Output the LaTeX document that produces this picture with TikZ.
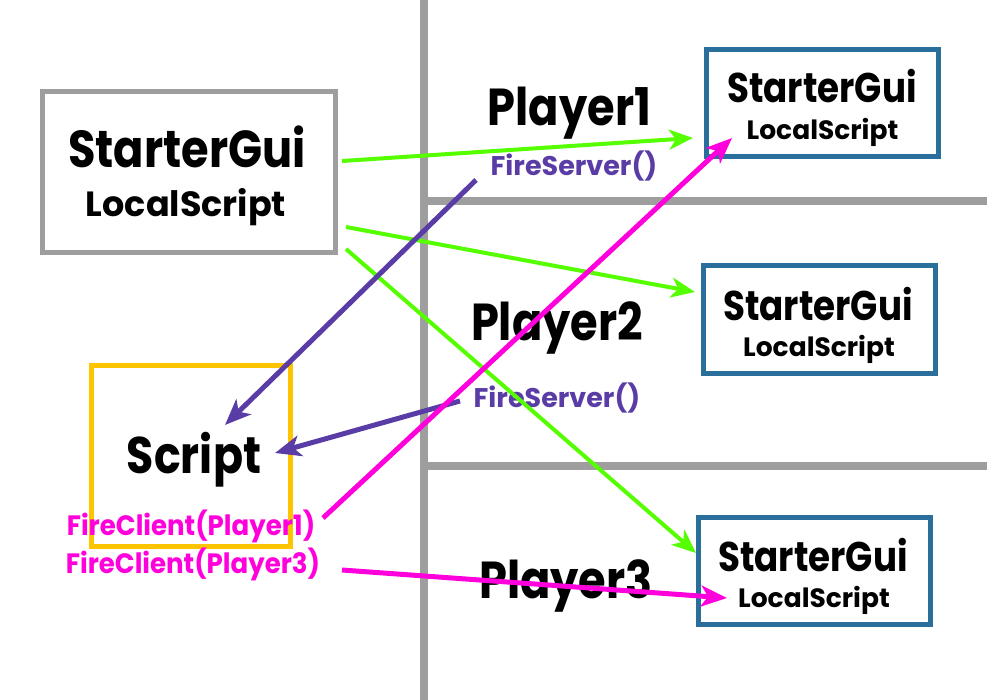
\documentclass[tikz,border=0pt]{standalone}
\usepackage{fontspec}
\setmainfont{Poppins}[FakeStretch=0.86]
\newfontfamily\widefont{Poppins}
\newfontfamily\midfont{Poppins}[FakeStretch=0.93]
\usetikzlibrary{arrows.meta}
\definecolor{sepgray}{HTML}{9E9E9E}
\definecolor{gline}{HTML}{55FF00}
\definecolor{pline}{HTML}{5A3CA6}
\definecolor{mline}{HTML}{FF00DC}
\definecolor{bbox}{HTML}{2A6F9C}
\definecolor{ybox}{HTML}{FFC400}
\tikzset{
  sep/.style={draw=sepgray, line width=8.5pt},
  boxg/.style={draw=sepgray, line width=5pt, minimum width=293pt, minimum height=161pt, inner sep=0pt},
  boxb/.style={draw=bbox, line width=5pt, minimum width=232pt, minimum height=107pt, inner sep=0pt},
  boxy/.style={draw=ybox, line width=4.5pt, minimum width=199pt, minimum height=181pt, inner sep=0pt},
  txt/.style={inner sep=0pt, anchor=base, font=\bfseries},
  garrow/.style={draw=gline, line width=4pt, -{Stealth[length=24pt,width=20pt,inset=7pt]}},
  parrow/.style={draw=pline, line width=5pt, -{Stealth[length=26pt,width=21pt,inset=7pt]}},
  marrow/.style={draw=mline, line width=5pt, -{Stealth[length=26pt,width=21pt,inset=7pt]}},
}
\begin{document}
\begin{tikzpicture}[x=1pt,y=-1pt]
\useasboundingbox (0,0) rectangle (987,700);
% separators
\coordinate (v1) at (424,0); \coordinate (v2) at (424,700);
\coordinate (h1a) at (424,201); \coordinate (h1b) at (987,201);
\coordinate (h2a) at (424,466); \coordinate (h2b) at (987,466);
\draw[sep] (v1) -- (v2);
\draw[sep] (h1a) -- (h1b);
\draw[sep] (h2a) -- (h2b);
% boxes
\node[boxg] (main) at (189,172) {};
\node[boxb] (p1box) at (822.5,103) {};
\node[boxb] (p2box) at (819.5,319.5) {};
\node[boxb] (p3box) at (814.5,570.5) {};
\node[boxy] (srv) at (191,456) {};
% texts
\node[txt, font=\bfseries\fontsize{52}{60}\selectfont] (mainA) at (187,168) {StarterGui};
\node[txt, font=\widefont\bfseries\fontsize{35}{40}\selectfont] (mainB) at (186,217) {LocalScript};
\node[txt, font=\bfseries\fontsize{41.5}{44}\selectfont] (b1A) at (822,103) {StarterGui};
\node[txt, font=\widefont\bfseries\fontsize{26.5}{30}\selectfont] (b1B) at (822.5,140) {LocalScript};
\node[txt, font=\bfseries\fontsize{41.5}{44}\selectfont] (b2A) at (818,320) {StarterGui};
\node[txt, font=\widefont\bfseries\fontsize{26.5}{30}\selectfont] (b2B) at (819,356) {LocalScript};
\node[txt, font=\bfseries\fontsize{41.5}{44}\selectfont] (b3A) at (813,571) {StarterGui};
\node[txt, font=\widefont\bfseries\fontsize{26.5}{30}\selectfont] (b3B) at (814,607) {LocalScript};
\node[txt, font=\bfseries\fontsize{52}{56}\selectfont] (pl1) at (569.5,126) {Player1};
\node[txt, font=\bfseries\fontsize{52}{56}\selectfont] (pl2) at (557,341) {Player2};
\node[txt, font=\bfseries\fontsize{52}{56}\selectfont] (pl3) at (566,598) {Player3};
\node[txt, font=\bfseries\fontsize{51.5}{54}\selectfont] (scr) at (194,473) {Script};
\node[txt, text=pline, font=\widefont\bfseries\fontsize{27}{32}\selectfont] (fs1) at (574,176) {FireServer()};
\node[txt, text=pline, font=\widefont\bfseries\fontsize{27}{32}\selectfont] (fs2) at (557,407) {FireServer()};
\node[txt, text=mline, font=\midfont\bfseries\fontsize{28}{32}\selectfont] (fc1) at (191,535) {FireClient(Player1)};
\node[txt, text=mline, font=\midfont\bfseries\fontsize{28}{32}\selectfont] (fc3) at (193,573) {FireClient(Player3)};
% connector end points
\coordinate (g1s) at (342,161); \coordinate (g1e) at (693,138);
\coordinate (g2s) at (346,227); \coordinate (g2e) at (695,292);
\coordinate (g3s) at (346,249); \coordinate (g3e) at (696,553);
\coordinate (p1s) at (476,180); \coordinate (p1e) at (225,425);
\coordinate (p2s) at (460,401); \coordinate (p2e) at (275,453);
\coordinate (m1s) at (323,518); \coordinate (m1e) at (732,138);
\coordinate (m2s) at (342,570); \coordinate (m2e) at (727,598);
% connectors
\draw[garrow] (g1s) -- (g1e);
\draw[garrow] (g2s) -- (g2e);
\draw[garrow] (g3s) -- (g3e);
\draw[parrow] (p1s) -- (p1e);
\draw[parrow] (p2s) -- (p2e);
\draw[marrow] (m1s) -- (m1e);
\draw[marrow] (m2s) -- (m2e);
\end{tikzpicture}
\end{document}
